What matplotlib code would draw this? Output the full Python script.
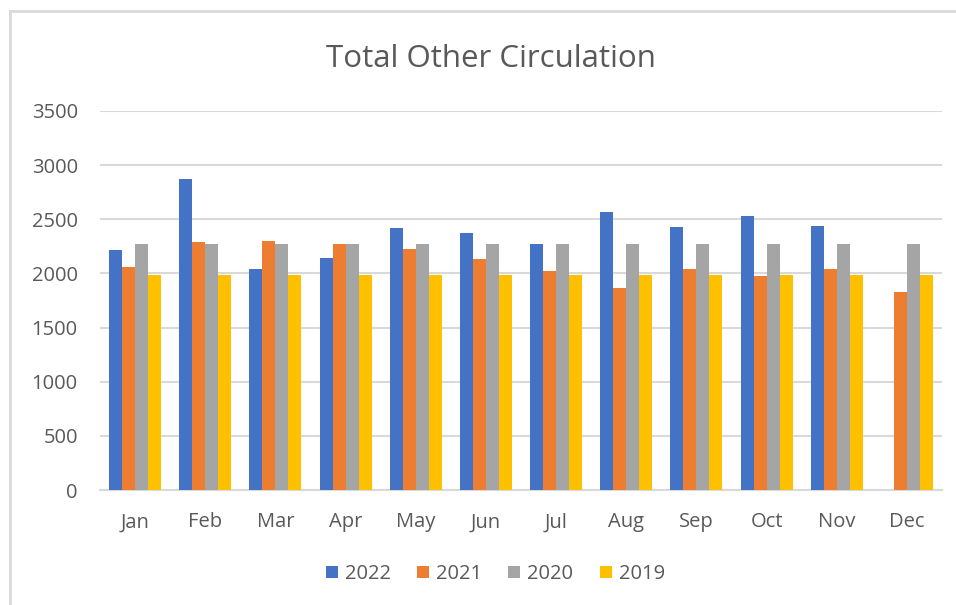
import numpy as np
import matplotlib.pyplot as plt
from matplotlib.lines import Line2D

plt.rcParams['font.family'] = ['Open Sans', 'DejaVu Sans']

months = ['Jan', 'Feb', 'Mar', 'Apr', 'May', 'Jun', 'Jul', 'Aug', 'Sep', 'Oct', 'Nov', 'Dec']
v2022 = [2213, 2876, 2037, 2142, 2417, 2370, 2272, 2568, 2426, 2534, 2438, np.nan]
v2021 = [2059, 2287, 2296, 2272, 2225, 2133, 2025, 1861, 2037, 1975, 2037, 1824]
v2020 = [2272, 2272, 2272, 2272, 2272, 2272, 2272, 2272, 2272, 2272, 2272, 2272]
v2019 = [1988, 1988, 1988, 1988, 1988, 1988, 1988, 1988, 1988, 1988, 1988, 1988]

series = [('2022', v2022, '#4472C4'), ('2021', v2021, '#ED7D31'),
          ('2020', v2020, '#A5A5A5'), ('2019', v2019, '#FFC000')]

txt = '#595959'
fig = plt.figure(figsize=(9.56, 6.05), dpi=100)
ax = fig.add_axes([100 / 956, 1 - 490 / 605, 842 / 956, 379 / 605])

x = np.arange(len(months))
w = 0.185
for i, (lab, vals, col) in enumerate(series):
    ax.bar(x + (i - 1.5) * w, vals, w, color=col, label=lab, zorder=3)

ax.set_xlim(-0.5, 11.5)
ax.set_ylim(0, 3500)
ax.set_yticks(range(0, 3501, 500))
ax.set_xticks(x)
ax.set_xticklabels(months)
ax.yaxis.grid(True, color='#D9D9D9', linewidth=1.5, zorder=0)
for s in ['top', 'right', 'left']:
    ax.spines[s].set_visible(False)
ax.spines['bottom'].set_color('#D9D9D9')
ax.spines['bottom'].set_linewidth(1.5)
ax.tick_params(axis='both', length=0, colors=txt, labelsize=14.5)
ax.tick_params(axis='x', pad=16)
ax.tick_params(axis='y', pad=16)

fig.text(0.514, 1 - 59 / 605, 'Total Other Circulation', ha='center', va='center',
         fontsize=22.5, color=txt)
fig.legend(loc='center', bbox_to_anchor=(0.518, 1 - 574 / 605), ncol=4, frameon=False,
           fontsize=14.5, labelcolor=txt, handlelength=0.6, handleheight=0.6,
           columnspacing=1.3, handletextpad=0.35)

# chart frame: only left and top edges visible
fig.add_artist(Line2D([10 / 956, 10 / 956], [0, 1 - 11 / 605], transform=fig.transFigure,
                      color='#D9D9D9', linewidth=2))
fig.add_artist(Line2D([10 / 956, 1], [1 - 11 / 605, 1 - 11 / 605], transform=fig.transFigure,
                      color='#D9D9D9', linewidth=2))

plt.savefig('out.png', dpi=100)
